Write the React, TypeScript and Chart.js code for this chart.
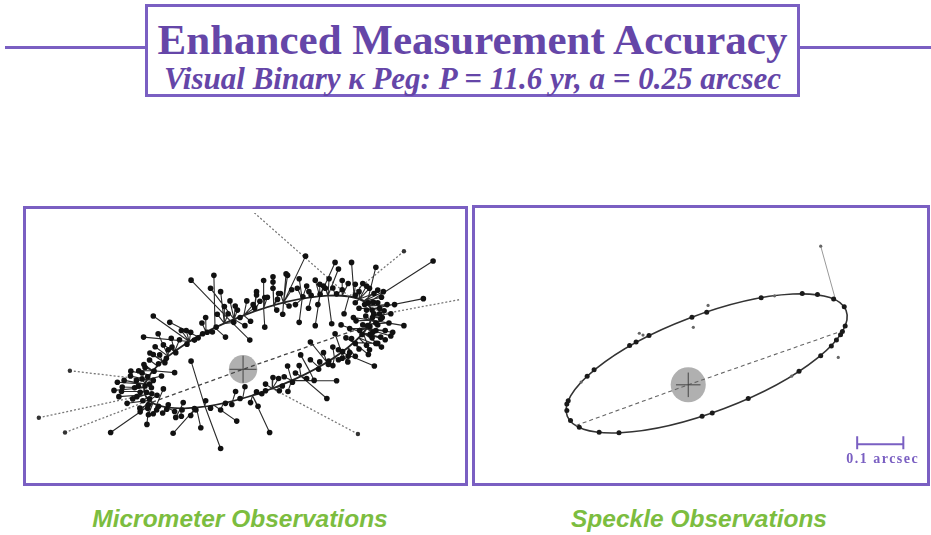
import React, { useEffect, useRef } from "react";
import { Chart, registerables } from "chart.js";

Chart.register(...registerables);

// Relative orbit of the companion, in milliarcseconds, primary at the origin
// (x to the right, y upwards).
const ORBIT_CENTER = [40, 47];
const ORBIT_SEMI_AXES = [323.5, 106];
const ORBIT_TILT_DEG = 21;
const PERIASTRON = [-243, -89];
const APASTRON = [336, 119];
const PRIMARY_RADIUS = 38;

// Micrometer measurements: observed position and the ephemeris position it is tied to.
const MICRO_OBS_X = [
  167, 508, 482, 430, 351, 224, 71, -17, -60, -139, -113, -187, -257, -354, -266, -240, -196, -139, 18, -78, -87, 246, 255, 290, 355, 250, 115, 80,
  368, 355, 368, 377, 360, 338, 320, 281, 255, 281, 338, 360, 290, 246, 339, 328, 349, 312, 302, 347, 119, 80, 36, 45, 31, 58, 150, 193, 237, 106,
  145, 193, 220, -25, -8, 27, 36, -69, -60, -47, -82, -108, -130, -165, 58, 92, 123, 176, -21, 5, -235, -213, -200, -249, -279, -301, -336, -345,
  -332, -323, -183, -213, -218, -209, -253, -253, -200, -183, -165, -227, -270, -244, -284, -265, -223, -192, -152, -310, -276, -231, 154, 180, 119, 80,
  132, 36, 180, 202, 228, 255, 50, -8, -47, -87, -126, 5, 97, -255, -262, -258, -250, -238, -226, -205, -180, -150, -120, -96, -72, 160,
  182, 206, 250, 300, 335, 345, 346, 333, 318, 300, 266, 229, -163, -130, -204, -226, 105, 60,
  -270, -285, -290, -275, -268, -295, -240, -245, -230, -300, -262, -250, -240, -255, -240, -215, -275, -318, -325, -250, -280,
  360, 372, 365, 385, 370, 350, 380, 390, 395, 345, 330, 310, 355, 320, 330, 350, 325, 300, 310, 400, 405,
  240, 215, 170, 130, 95, 65, 10, -15, -40, -110, -140, -170, -190, 140, 90, 265, 200, 20,
  -160, -100, -60, -30, 20, 60, 110, 140, 170, 205, 240, 265, 285, -180, -140,
  285, 295, 310, 270, 275, 262, 340, 355, 365, 360, 375, 330, 300, 265, 230, 205, 380, 395, 370, 335, 300, 280,
  80, 55, 150, 100, -50, -100, -35, 175,
  120, 150, 190, 215, 240, 95, 40, -20,
];
const MICRO_OBS_Y = [
  306, 293, 191, 118, 9, -79, -171, -140, -214, 22, -158, -173, -149, -171, 87, 144, 127, 241, 79, 254, 219, 289, 271, 289, 276, -31, 258, 236,
  87, 70, 136, 158, 214, 219, 232, 232, 53, 35, 53, 70, 83, 96, 116, 144, 181, 105, 131, 100, 254, 219, 210, 184, 166, 114, 127, 118, 123, 149,
  219, 241, 219, 127, 140, 175, 201, 149, 210, 87, 101, 96, 79, 105, 194, 189, 171, 210, 171, 118, 61, 66, 53, 44, -4, -18, -35, -57,
  -74, -48, -9, -53, -18, 18, -96, -123, -96, -114, -127, 96, -26, -66, -74, 13, 39, 84, 105, -92, -105, -110, 39, 26, 9, -22,
  -35, -61, 74, 0, 13, 26, -66, -79, -92, -105, -110, -47, -58, -20, -45, -62, -80, -5, 15, 30, 45, 68, 85, 100, 114, 196,
  200, 203, 204, 200, 180, 160, 140, 118, 94, 70, 48, 22, -110, -106, -108, -100, -45, -58,
  -10, -30, -50, -62, -85, -80, -30, -50, -70, -5, 5, 25, 40, -105, -120, -118, -115, -30, -60, -40, -45,
  120, 140, 165, 175, 195, 205, 105, 125, 150, 85, 65, 55, 125, 120, 160, 150, 175, 180, 210, 100, 175,
  220, 225, 225, 215, 205, 195, 185, 160, 150, 125, 100, 80, 60, 175, 160, 215, 175, 130,
  -90, -85, -110, -95, -90, -40, -20, -10, -25, 20, 10, 30, 45, -130, -125,
  110, 140, 165, 150, 85, 120, 95, 105, 150, 180, 210, 225, 230, 240, 245, 230, 80, 90, 60, 40, 35, 20,
  250, 240, 245, 205, 170, 140, 185, 165,
  -60, 10, -30, 45, 60, -25, -100, -60,
];
const MICRO_FIT_X = [
  108, 331, 342, 342, 263, 155, 25, -78, -102, -102, -125, -125, -251, -241, -144, -144, -121, -34, -34, -75, -24, 205, 227, 297, 331, 130, 108, 82,
  321, 296, 344, 342, 322, 311, 297, 265, 263, 281, 321, 321, 296, 263, 337, 342, 337, 329, 342, 329, 108, 82, 29, 29, 2, 55, 158, 205, 227, 108,
  158, 205, 227, -50, -24, 2, 29, -50, -50, -75, -99, -99, -144, -144, 55, 82, 108, 182, -24, -24, -200, -183, -200, -216, -241, -257, -261, -264,
  -262, -264, -241, -231, -257, -216, -241, -241, -203, -203, -167, -200, -261, -262, -262, -241, -216, -183, -144, -251, -241, -231, 179, 202, 130, 78,
  130, 25, 224, 202, 224, 244, 25, -1, -53, -78, -125, -1, 78, -257, -261, -263, -257, -241, -229, -200, -183, -144, -121, -99, -75, 158,
  182, 205, 247, 297, 337, 342, 344, 337, 321, 296, 263, 224, -167, -125, -203, -231, 78, 78,
  -249, -257, -264, -263, -257, -262, -257, -261, -251, -249, -241, -229, -216, -241, -231, -203, -251, -261, -263, -261, -264,
  342, 344, 342, 337, 322, 311, 329, 337, 344, 321, 309, 296, 337, 329, 342, 344, 337, 311, 311, 329, 337,
  247, 205, 158, 108, 82, 55, 2, -24, -50, -99, -144, -183, -183, 158, 82, 247, 205, 2,
  -167, -102, -53, -28, 25, 78, 130, 155, 155, 202, 244, 263, 281, -167, -125,
  329, 342, 342, 283, 296, 321, 321, 329, 344, 337, 322, 311, 297, 265, 227, 205, 321, 329, 309, 296, 281, 263,
  82, 55, 158, 108, -50, -99, -24, 182,
  130, 155, 179, 224, 244, 78, 25, -28,
];
const MICRO_FIT_Y = [
  180, 178, 163, 133, 46, -19, -71, -97, -100, -100, -103, -103, -84, -91, 75, 75, 88, 131, 131, 112, 135, 197, 199, 194, 178, -30, 180, 172,
  98, 72, 144, 163, 184, 190, 194, 199, 46, 59, 98, 98, 72, 46, 122, 133, 171, 110, 133, 110, 180, 172, 156, 156, 146, 165, 191, 197, 199, 180,
  191, 197, 199, 124, 135, 146, 156, 124, 124, 112, 101, 101, 75, 75, 165, 172, 180, 194, 135, 135, 35, 48, 35, 22, -4, -28, -40, -50,
  -69, -50, -4, -96, -28, 22, -91, -91, -103, -103, -106, 35, -40, -69, -69, -4, 22, 48, 75, -84, -91, -96, -7, 6, -30, -52,
  -30, -71, 19, 6, 19, 33, -71, -79, -92, -97, -103, -79, -52, -28, -40, -60, -77, -4, 9, 35, 48, 75, 88, 101, 112, 191,
  194, 197, 200, 194, 171, 163, 144, 122, 98, 72, 46, 19, -106, -103, -103, -96, -52, -52,
  -16, -28, -50, -60, -77, -69, -28, -40, -84, -16, -4, 9, 22, -91, -96, -103, -84, -40, -60, -40, -50,
  133, 144, 163, 171, 184, 190, 110, 122, 144, 98, 85, 72, 122, 110, 163, 144, 171, 190, 190, 110, 171,
  200, 197, 191, 180, 172, 165, 146, 135, 124, 101, 75, 48, 48, 191, 172, 200, 197, 146,
  -106, -100, -92, -86, -71, -52, -30, -19, -19, 6, 33, 46, 59, -106, -103,
  110, 133, 163, 197, 72, 98, 98, 110, 144, 171, 184, 190, 194, 199, 199, 197, 98, 110, 85, 72, 59, 46,
  172, 165, 191, 180, 124, 101, 135, 194,
  -30, -19, -7, 19, 33, -52, -71, -86,
];

// Discordant micrometer measurements (drawn dotted).
const MICRO_DISCORDANT_OBS_X = [-10, 430, 609, 307, -476, -546, -463];
const MICRO_DISCORDANT_OBS_Y = [459, 319, 194, -175, -171, -131, -4];
const MICRO_DISCORDANT_FIT_X = [283, 283, 344, 78, -251, -262, -257];
const MICRO_DISCORDANT_FIT_Y = [197, 197, 144, -52, -84, -69, -28];

// Speckle measurements.
const SPECKLE_X = [-263, -263, -255, -236, -193, -150, 30, 52, 130, 240, 287, 310, 330, 334, 321, 340, 338, 315, 280, 247, 158, 40, 8, -85, -113, -127, -204, -219, -260];
const SPECKLE_Y = [-42, -56, -78, -93, -104, -105, -69, -62, -30, 30, 64, 85, 110, 117, 98, 129, 171, 188, 198, 200, 191, 159, 148, 108, 94, 86, 33, 19, -35];
const SPECKLE_FAINT_X = [224, 187, 325, 11, 43, -98, -232, -106, 287];
const SPECKLE_FAINT_Y = [19, 195, 60, 126, 174, 109, 6, 113, 304];
const SPECKLE_RESID_OBS = [287, 304];
const SPECKLE_RESID_FIT = [319, 187];

// Scale bar: 0.1 arcsec = 100 mas.
const SCALE_BAR_X = [366, 466];
const SCALE_BAR_Y = -130;
const SCALE_BAR_LABEL = "0.1 arcsec";

const PURPLE = "#7a5fc2";
const PURPLE_TEXT = "#6546a8";
const GREEN = "#7cbd3f";

type Pt = { x: number; y: number };

function residualSegments(ox: number[], oy: number[], fx: number[], fy: number[]): Pt[] {
  const out: Pt[] = [];
  const n = Math.min(ox.length, oy.length, fx.length, fy.length);
  for (let i = 0; i < n; i++) {
    out.push({ x: ox[i], y: oy[i] }, { x: fx[i], y: fy[i] }, { x: NaN, y: NaN });
  }
  return out;
}

function points(xs: number[], ys: number[]): Pt[] {
  const n = Math.min(xs.length, ys.length);
  const out: Pt[] = [];
  for (let i = 0; i < n; i++) out.push({ x: xs[i], y: ys[i] });
  return out;
}

const orbitPlugin = {
  id: "orbitSketch",
  beforeDatasetsDraw(chart: any, _args: any, opts: any) {
    const { ctx, chartArea, scales } = chart;
    const x = scales.x;
    const y = scales.y;
    ctx.save();
    ctx.beginPath();
    ctx.rect(chartArea.left, chartArea.top, chartArea.width, chartArea.height);
    ctx.clip();

    // primary star disc
    const px = x.getPixelForValue(0);
    const py = y.getPixelForValue(0);
    const r = Math.abs(x.getPixelForValue(PRIMARY_RADIUS) - px);
    ctx.fillStyle = opts.primaryFill;
    ctx.beginPath();
    ctx.arc(px, py, r, 0, Math.PI * 2);
    ctx.fill();

    // apparent orbit
    const kx = x.getPixelForValue(1) - x.getPixelForValue(0);
    const ky = y.getPixelForValue(1) - y.getPixelForValue(0);
    ctx.save();
    ctx.translate(x.getPixelForValue(ORBIT_CENTER[0]), y.getPixelForValue(ORBIT_CENTER[1]));
    ctx.scale(kx, ky);
    ctx.rotate((ORBIT_TILT_DEG * Math.PI) / 180);
    ctx.beginPath();
    ctx.ellipse(0, 0, ORBIT_SEMI_AXES[0], ORBIT_SEMI_AXES[1], 0, 0, Math.PI * 2);
    ctx.restore();
    ctx.strokeStyle = opts.orbitColor;
    ctx.lineWidth = opts.orbitWidth;
    ctx.stroke();
    ctx.restore();
  },
  afterDatasetsDraw(chart: any, _args: any, opts: any) {
    const { ctx, scales } = chart;
    const x = scales.x;
    const y = scales.y;
    const px = x.getPixelForValue(0);
    const py = y.getPixelForValue(0);
    const r = Math.abs(x.getPixelForValue(PRIMARY_RADIUS) - px) * opts.crossScale;
    ctx.save();
    ctx.strokeStyle = opts.crossColor;
    ctx.lineWidth = 1;
    ctx.beginPath();
    ctx.moveTo(px - r, py);
    ctx.lineTo(px + r, py);
    ctx.moveTo(px, py - r);
    ctx.lineTo(px, py + r);
    ctx.stroke();

    if (opts.scaleBar) {
      const x0 = x.getPixelForValue(SCALE_BAR_X[0]);
      const x1 = x.getPixelForValue(SCALE_BAR_X[1]);
      const yb = y.getPixelForValue(SCALE_BAR_Y);
      ctx.strokeStyle = PURPLE;
      ctx.lineWidth = 2;
      ctx.beginPath();
      ctx.moveTo(x0, yb);
      ctx.lineTo(x1, yb);
      ctx.moveTo(x0, yb - 8);
      ctx.lineTo(x0, yb + 5);
      ctx.moveTo(x1, yb - 8);
      ctx.lineTo(x1, yb + 5);
      ctx.stroke();
      ctx.fillStyle = PURPLE;
      ctx.font = "bold 14px 'Liberation Serif', serif";
      (ctx as any).letterSpacing = "1.5px";
      ctx.textAlign = "left";
      ctx.textBaseline = "alphabetic";
      ctx.fillText(SCALE_BAR_LABEL, x0 - 11, yb + 19);
    }
    ctx.restore();
  },
};

type PanelSpec = {
  width: number;
  height: number;
  xRange: [number, number];
  yRange: [number, number];
  datasets: any[];
  plugin: any;
};

function micrometerSpec(): PanelSpec {
  return {
    width: 439,
    height: 274,
    xRange: [-569.6, 582.6],
    yRange: [-296.6, 422.6],
    plugin: {
      primaryFill: "rgba(150,150,150,0.75)",
      orbitColor: "#222",
      orbitWidth: 1.8,
      crossColor: "#444",
      crossScale: 0.95,
      scaleBar: false,
    },
    datasets: [
      {
        label: "Micrometer",
        data: points(MICRO_OBS_X, MICRO_OBS_Y),
        pointRadius: 2.8,
        pointBackgroundColor: "#111",
        pointBorderWidth: 0,
        showLine: false,
      },
      {
        label: "Discordant",
        data: points(MICRO_DISCORDANT_OBS_X, MICRO_DISCORDANT_OBS_Y),
        pointRadius: 2.2,
        pointBackgroundColor: "#333",
        pointBorderWidth: 0,
        showLine: false,
      },
      {
        label: "Residuals",
        data: residualSegments(MICRO_OBS_X, MICRO_OBS_Y, MICRO_FIT_X, MICRO_FIT_Y),
        showLine: true,
        spanGaps: false,
        pointRadius: 0,
        borderColor: "#2a2a2a",
        borderWidth: 1.1,
      },
      {
        label: "Discordant residuals",
        data: residualSegments(MICRO_DISCORDANT_OBS_X, MICRO_DISCORDANT_OBS_Y, MICRO_DISCORDANT_FIT_X, MICRO_DISCORDANT_FIT_Y),
        showLine: true,
        spanGaps: false,
        pointRadius: 0,
        borderColor: "#777",
        borderWidth: 1.3,
        borderDash: [2, 2],
      },
      {
        label: "Line of apsides",
        data: points([PERIASTRON[0], 0, APASTRON[0]], [PERIASTRON[1], 0, APASTRON[1]]),
        showLine: true,
        pointRadius: 0,
        borderColor: "#444",
        borderWidth: 1.3,
        borderDash: [4, 3],
      },
    ],
  };
}

function speckleSpec(): PanelSpec {
  return {
    width: 452,
    height: 275,
    xRange: [-453.3, 508.6],
    yRange: [-206.4, 378.8],
    plugin: {
      primaryFill: "rgba(150,150,150,0.75)",
      orbitColor: "#333",
      orbitWidth: 1.6,
      crossColor: "#444",
      crossScale: 0.7,
      scaleBar: true,
    },
    datasets: [
      {
        label: "Speckle",
        data: points(SPECKLE_X, SPECKLE_Y),
        pointRadius: 2.5,
        pointBackgroundColor: "#1a1a1a",
        pointBorderWidth: 0,
        showLine: false,
      },
      {
        label: "Speckle (low weight)",
        data: points(SPECKLE_FAINT_X, SPECKLE_FAINT_Y),
        pointRadius: 1.6,
        pointBackgroundColor: "#666",
        pointBorderWidth: 0,
        showLine: false,
      },
      {
        label: "Residual",
        data: points([SPECKLE_RESID_OBS[0], SPECKLE_RESID_FIT[0]], [SPECKLE_RESID_OBS[1], SPECKLE_RESID_FIT[1]]),
        showLine: true,
        pointRadius: 0,
        borderColor: "#999",
        borderWidth: 1,
      },
      {
        label: "Line of apsides",
        data: points([PERIASTRON[0], 0, APASTRON[0]], [PERIASTRON[1], 0, APASTRON[1]]),
        showLine: true,
        pointRadius: 0,
        borderColor: "#666",
        borderWidth: 1.1,
        borderDash: [4, 3],
      },
    ],
  };
}

function OrbitPanel({ spec }: { spec: PanelSpec }) {
  const ref = useRef<HTMLCanvasElement | null>(null);
  useEffect(() => {
    if (!ref.current) return;
    const chart = new Chart(ref.current, {
      type: "scatter",
      data: { datasets: spec.datasets },
      options: {
        responsive: false,
        maintainAspectRatio: false,
        animation: false,
        events: [],
        layout: { padding: 0 },
        scales: {
          x: { type: "linear", min: spec.xRange[0], max: spec.xRange[1], display: false },
          y: { type: "linear", min: spec.yRange[0], max: spec.yRange[1], display: false },
        },
        plugins: {
          legend: { display: false },
          tooltip: { enabled: false },
          orbitSketch: spec.plugin,
        } as any,
      },
      plugins: [orbitPlugin],
    });
    return () => chart.destroy();
  }, [spec]);
  return <canvas ref={ref} width={spec.width} height={spec.height} style={{ display: "block" }} />;
}

const micrometer = micrometerSpec();
const speckle = speckleSpec();

const labelStyle: React.CSSProperties = {
  position: "absolute",
  width: 400,
  top: 503,
  textAlign: "center",
  color: GREEN,
  fontFamily: "'Liberation Sans', Arial, sans-serif",
  fontWeight: "bold",
  fontStyle: "italic",
  fontSize: 24.5,
  lineHeight: "32px",
};

export default function App() {
  const abs = (s: React.CSSProperties): React.CSSProperties => ({ position: "absolute", ...s });
  return (
    <div style={{ position: "fixed", left: 0, top: 0, width: 931, height: 535, background: "#fff", overflow: "hidden" }}>
      <div style={abs({ left: 5, top: 46, width: 141, height: 3, background: PURPLE })} />
      <div style={abs({ left: 799, top: 46, width: 132, height: 3, background: PURPLE })} />
      <div
        style={abs({
          left: 145,
          top: 4,
          width: 649,
          height: 87,
          border: `3px solid ${PURPLE}`,
          textAlign: "center",
          color: PURPLE_TEXT,
          fontFamily: "'Liberation Serif', serif",
          whiteSpace: "nowrap",
        })}
      >
        <div style={{ marginTop: 10, fontSize: 43, lineHeight: "45px", fontWeight: "bold" }}>
          Enhanced Measurement Accuracy
        </div>
        <div style={{ fontSize: 31, lineHeight: "34px", fontWeight: "bold", fontStyle: "italic" }}>
          Visual Binary κ Peg: P = 11.6 yr, a = 0.25 arcsec
        </div>
      </div>

      <div style={abs({ left: 23, top: 206, border: `3px solid ${PURPLE}` })}>
        <OrbitPanel spec={micrometer} />
      </div>
      <div style={abs({ left: 472, top: 205, border: `3px solid ${PURPLE}` })}>
        <OrbitPanel spec={speckle} />
      </div>

      <div style={{ ...labelStyle, left: 40 }}>Micrometer Observations</div>
      <div style={{ ...labelStyle, left: 499 }}>Speckle Observations</div>
    </div>
  );
}
